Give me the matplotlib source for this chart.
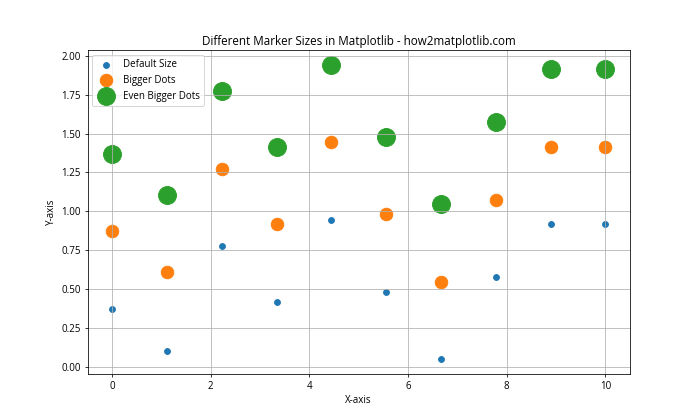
import matplotlib
matplotlib.use("Agg")
import matplotlib.pyplot as plt
import numpy as np

plt.rcParams['font.family'] = ['Open Sans', 'DejaVu Sans']

x = np.linspace(0, 10, 10)
y_default = [0.375, 0.105, 0.78, 0.415, 0.945, 0.48, 0.05, 0.575, 0.92, 0.92]
y_bigger = [0.875, 0.61, 1.275, 0.92, 1.445, 0.985, 0.545, 1.075, 1.415, 1.415]
y_biggest = [1.37, 1.105, 1.775, 1.415, 1.94, 1.48, 1.05, 1.575, 1.915, 1.915]

fig = plt.figure(figsize=(10, 6), dpi=70)
plt.scatter(x, y_default, label='Default Size')
plt.scatter(x, y_bigger, s=165, label='Bigger Dots')
plt.scatter(x, y_biggest, s=340, label='Even Bigger Dots')
plt.title('Different Marker Sizes in Matplotlib - how2matplotlib.com')
plt.xlabel('X-axis')
plt.ylabel('Y-axis')
plt.legend()
plt.grid(True)
plt.savefig('out.png', dpi=70)
